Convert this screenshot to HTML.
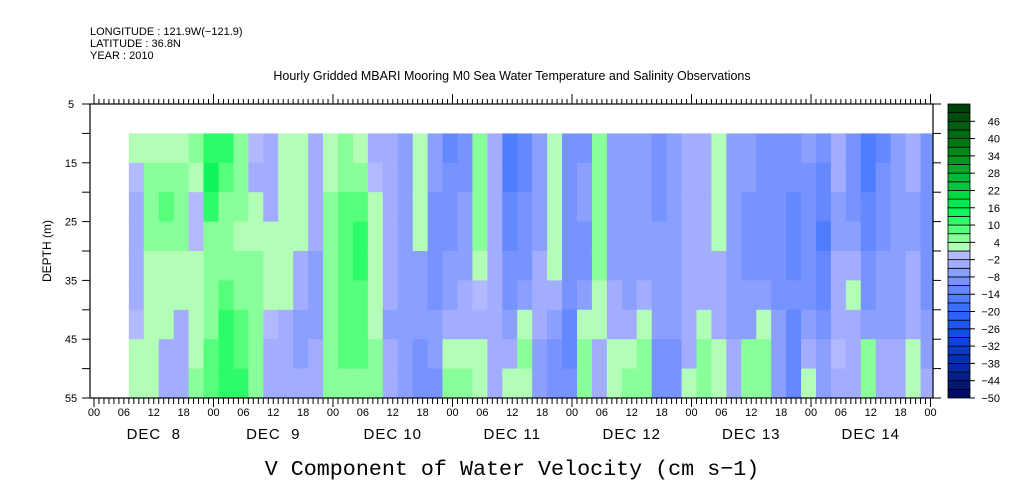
<!DOCTYPE html>
<html><head><meta charset="utf-8">
<style>
html,body{margin:0;padding:0;background:#fff;}
svg{display:block;font-family:"Liberation Sans",sans-serif;}
</style></head>
<body>
<svg id="chart" width="1009" height="504" viewBox="0 0 1009 504" xmlns="http://www.w3.org/2000/svg">
<text x="90" y="35" font-size="11">LONGITUDE : 121.9W(−121.9)</text>
<text x="90" y="47" font-size="11">LATITUDE : 36.8N</text>
<text x="90" y="59" font-size="11">YEAR : 2010</text>
<text x="512" y="80" font-size="12.5" text-anchor="middle">Hourly Gridded MBARI Mooring M0 Sea Water Temperature and Salinity Observations</text>
<text transform="translate(51,251) rotate(-90)" font-size="12" text-anchor="middle">DEPTH (m)</text>
<text x="512" y="475" font-size="21.7" font-family="Liberation Mono, monospace" text-anchor="middle">V Component of Water Velocity (cm s−1)</text>
<g id="heat"></g>
<g id="axes"></g>
<g id="cbar"></g>
</svg>
<script>
const colStartHours = [7,10,13,16,19,22,25,28,31,34,37,40,43,46,49,52,55,58,61,64,67,70,73,76,79,82,85,88,91,94,97,100,103,106,109,112,115,118,121,124,127,130,133,136,139,142,145,148,151,154,157,160,163,166];
const depthBands = [10,15,20,25,30,35,40,45,50];
const velocity = [
[3,-2,-3,-3,-3,-3,-2,2,2],[3,5,6,5,2,1,2,2,2],[3,5,7,6,3,2,1,-3,-3],[2,4,5,5,3,2,-3,-4,-4],
[4,3,-2,-2,2,3,3,3,4],[12,14,10,6,5,5,6,7,7],[10,8,6,4,5,7,10,12,12],[5,4,4,3,4,5,8,9,10],
[-2,-3,3,2,4,4,6,6,6],[-5,-5,-3,2,3,2,-2,-3,-4],[3,2,3,3,2,2,-4,-5,-5],[3,3,2,2,-3,-4,-6,-6,-3],
[-4,-4,-5,-5,-6,-6,-6,-5,-4],[2,3,4,4,4,5,5,5,5],[5,6,7,8,8,8,7,7,6],[3,5,8,10,10,9,9,8,6],
[-3,-2,2,3,3,3,3,4,4],[-4,-5,-5,-4,-5,-5,-6,-5,-4],[-6,-7,-8,-8,-8,-7,-7,-7,-7],[3,3,3,2,-6,-8,-8,-9,-10],
[-8,-8,-9,-10,-10,-9,-8,-8,-10],[-12,-11,-10,-9,-8,-7,-4,3,5],[-10,-9,-8,-7,-6,-5,-3,3,4],[6,6,5,4,3,-2,-3,2,2],
[-4,-4,-4,-4,-3,-3,-3,-3,-3],[-16,-15,-14,-12,-10,-10,-8,-5,2],[-12,-12,-11,-10,-9,-7,3,4,3],[-6,-6,-6,-6,-5,-5,-5,-6,-7],
[3,3,3,3,2,-3,-7,-10,-11],[-10,-10,-9,-9,-10,-11,-12,-12,-11],[-9,-8,-8,-9,-9,-8,3,5,4],[5,6,6,5,4,3,2,-3,-3],
[-6,-7,-7,-7,-6,-5,-4,3,3],[-8,-8,-8,-7,-7,-6,-5,3,4],[-7,-7,-7,-6,-6,-5,3,4,4],[-9,-9,-9,-8,-8,-8,-8,-9,-9],
[-6,-6,-6,-6,-7,-7,-8,-9,-10],[-5,-5,-5,-5,-5,-4,-4,-4,2],[-4,-4,-4,-4,-4,-3,3,4,4],[2,3,3,3,-3,-4,-3,2,3],
[-6,-7,-7,-7,-7,-7,-6,-5,-4],[-8,-8,-9,-9,-9,-8,-7,4,5],[-9,-9,-10,-10,-9,-8,3,6,6],[-9,-9,-10,-10,-10,-9,-8,-8,-7],
[-10,-11,-12,-12,-12,-11,-12,-13,-14],[-8,-9,-9,-10,-10,-9,-8,-3,3],[-11,-12,-14,-15,-14,-12,-10,-8,-6],[-5,-5,-6,-6,-5,-4,-3,-2,-3],
[-10,-10,-11,-8,-4,3,-4,-3,-3],[-17,-16,-14,-12,-10,-9,-8,4,4],[-12,-11,-10,-9,-8,-7,-6,-5,-4],[-6,-6,-7,-7,-7,-7,-6,-5,-5],
[-5,-5,-6,-6,-5,-4,-3,3,3],[-10,-10,-11,-11,-10,-9,-8,-6,-3]
];
const depthTicks = [5,15,25,35,45,55];
const hourLabels = ["00","06","12","18"];
const dayLabels = ["DEC  8","DEC  9","DEC 10","DEC 11","DEC 12","DEC 13","DEC 14"];
const cbarLabels = [46,40,34,28,22,16,10,4,-2,-8,-14,-20,-26,-32,-38,-44,-50];
const levelMin = -50, levelStep = 3, levelCount = 34;

const NS="http://www.w3.org/2000/svg";
const X0=90, X1=933, Y0=104, Y1=398;
const xScale = h => 94 + h*119.5/24;
const yScale = d => Y0 + (d-5)*(Y1-Y0)/50;
function mk(tag, attrs, parent){const e=document.createElementNS(NS,tag);for(const k in attrs)e.setAttribute(k,attrs[k]);parent.appendChild(e);return e;}
const anchors=[[-50,[0,10,90]],[-38,[5,45,170]],[-26,[20,80,240]],[-20,[50,105,255]],[-14,[90,130,255]],[-8,[128,153,255]],[-4,[158,170,255]],[-1,[182,188,255]],[1,[190,252,190]],[3,[175,255,180]],[5.5,[136,255,153]],[10,[60,255,110]],[16,[0,240,85]],[22,[0,208,64]],[28,[0,176,48]],[34,[0,144,31]],[40,[0,112,20]],[46,[0,85,14]],[52,[0,58,8]]];
function colorAt(v){
  if(v<=anchors[0][0])return anchors[0][1];
  for(let i=1;i<anchors.length;i++){if(v<=anchors[i][0]){const a=anchors[i-1],b=anchors[i];const t=(v-a[0])/(b[0]-a[0]);return a[1].map((c,j)=>Math.round(c+(b[1][j]-c)*t));}}
  return anchors[anchors.length-1][1];
}
function levelColor(i){const mid=levelMin+levelStep*i+levelStep/2;const c=colorAt(mid<0&&mid>-3?-1.5:mid);return `rgb(${c[0]},${c[1]},${c[2]})`;}
function valueColor(v){let i=Math.floor((v-levelMin)/levelStep);i=Math.max(0,Math.min(levelCount-1,i));return levelColor(i);}

const heat=document.getElementById('heat');
velocity.forEach((col,ci)=>{
  const h=colStartHours[ci];
  const xa=xScale(h), xb=Math.min(X1, xScale(h+3));
  col.forEach((v,ri)=>{
    const d=depthBands[ri];
    const r=mk('rect',{x:xa,y:yScale(d),width:Math.max(0,xb-xa+0.5),height:yScale(d+5)-yScale(d)+0.5,fill:valueColor(v)},heat);
    
    
  });
});

const ax=document.getElementById('axes');
const frame=mk('rect',{x:X0,y:Y0,width:X1-X0,height:Y1-Y0,fill:'none',stroke:'#000','stroke-width':1.2},ax);


for(let d=5;d<=55;d+=5){
  const y=yScale(d);
  mk('line',{x1:X0-8,x2:X0,y1:y,y2:y,stroke:'#000'},ax);
  mk('line',{x1:X1,x2:X1+8,y1:y,y2:y,stroke:'#000'},ax);
}
depthTicks.forEach(d=>{
  const t=mk('text',{x:71,y:yScale(d)+4,'font-size':11,'text-anchor':'middle'},ax);
  t.textContent=d;
  
  
});
for(let h=0;h<=168;h++){
  const x=xScale(h); if(x<X0||x>X1)continue;
  const major=h%24===0;
  mk('line',{x1:x,x2:x,y1:Y0,y2:Y0-(major?10:5),stroke:'#000'},ax);
  mk('line',{x1:x,x2:x,y1:Y1,y2:Y1+(major?9:6),stroke:'#000'},ax);
  if(h%6===0){
    const t=mk('text',{x:x,y:416,'font-size':11,'text-anchor':'middle'},ax);
    t.textContent=hourLabels[(h/6)%4];
    
    
  }
}
dayLabels.forEach((lab,i)=>{
  const t=mk('text',{x:xScale(i*24+12),y:439,'font-size':15,'text-anchor':'middle','letter-spacing':'1'},ax);
  t.setAttribute('style','white-space:pre');
  t.textContent=lab;
  
  
});

const cb=document.getElementById('cbar');
const CX=948, CW=22, cbH=(Y1-Y0)/levelCount;
for(let i=0;i<levelCount;i++){
  const y=Y1-(i+1)*cbH;
  const r=mk('rect',{x:CX,y:y,width:CW,height:cbH,fill:levelColor(i),stroke:'#000','stroke-width':0.8},cb);
  
  
}
cbarLabels.forEach(v=>{
  const i=(v-levelMin)/levelStep;
  const y=Y1-i*cbH;
  mk('line',{x1:CX+CW,x2:CX+CW+5,y1:y,y2:y,stroke:'#000'},cb);
  const t=mk('text',{x:1000,y:y+4,'font-size':11,'text-anchor':'end'},cb);
  t.textContent=v<0?'−'+(-v):v;
  
  
});
</script>
</body></html>
